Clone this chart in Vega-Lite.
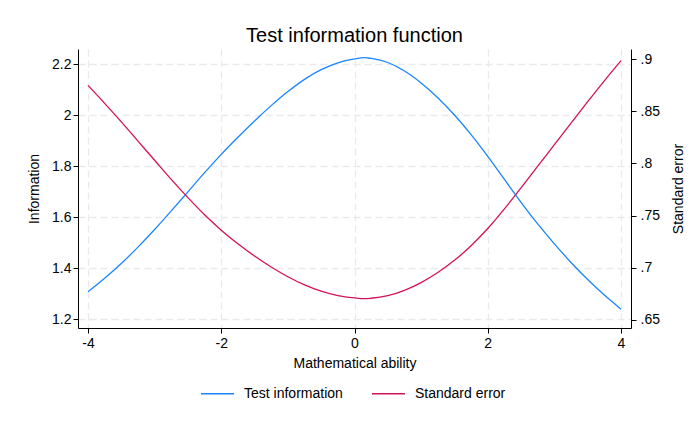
{
  "$schema": "https://vega.github.io/schema/vega-lite/v6.json",
  "width": 553,
  "height": 279,
  "autosize": {"type": "none"},
  "padding": {"left": 78, "top": 49, "right": 63, "bottom": 93},
  "background": "white",
  "config": {
    "font": "Liberation Sans",
    "view": {"stroke": null},
    "axis": {
      "domainColor": "black",
      "tickColor": "black",
      "labelColor": "black",
      "titleColor": "black",
      "labelFontSize": 14,
      "titleFontSize": 14,
      "titleFontWeight": "normal",
      "tickSize": 5,
      "gridColor": "#eaeaea",
      "gridDash": [7, 4],
      "gridWidth": 1.3
    }
  },
  "title": {"text": "Test information function", "fontSize": 20, "fontWeight": "normal", "color": "black", "anchor": "middle", "offset": 3},
  "data": {"values": [
    {"theta": -4.0, "info": 1.307, "se": 0.8747},
    {"theta": -3.75, "info": 1.360, "se": 0.8575},
    {"theta": -3.5, "info": 1.418, "se": 0.8398},
    {"theta": -3.25, "info": 1.482, "se": 0.8214},
    {"theta": -3.0, "info": 1.551, "se": 0.8030},
    {"theta": -2.75, "info": 1.624, "se": 0.7847},
    {"theta": -2.5, "info": 1.699, "se": 0.7672},
    {"theta": -2.25, "info": 1.774, "se": 0.7508},
    {"theta": -2.0, "info": 1.846, "se": 0.7360},
    {"theta": -1.75, "info": 1.913, "se": 0.7230},
    {"theta": -1.5, "info": 1.977, "se": 0.7112},
    {"theta": -1.25, "info": 2.037, "se": 0.7007},
    {"theta": -1.0, "info": 2.092, "se": 0.6914},
    {"theta": -0.75, "info": 2.140, "se": 0.6836},
    {"theta": -0.5, "info": 2.178, "se": 0.6776},
    {"theta": -0.25, "info": 2.205, "se": 0.6734},
    {"theta": 0.0, "info": 2.220, "se": 0.6712},
    {"theta": 0.15, "info": 2.225, "se": 0.6704},
    {"theta": 0.25, "info": 2.222, "se": 0.6708},
    {"theta": 0.5, "info": 2.206, "se": 0.6733},
    {"theta": 0.75, "info": 2.173, "se": 0.6784},
    {"theta": 1.0, "info": 2.126, "se": 0.6858},
    {"theta": 1.25, "info": 2.068, "se": 0.6954},
    {"theta": 1.5, "info": 2.000, "se": 0.7071},
    {"theta": 1.75, "info": 1.923, "se": 0.7211},
    {"theta": 2.0, "info": 1.838, "se": 0.7376},
    {"theta": 2.25, "info": 1.748, "se": 0.7564},
    {"theta": 2.5, "info": 1.658, "se": 0.7766},
    {"theta": 2.75, "info": 1.573, "se": 0.7973},
    {"theta": 3.0, "info": 1.495, "se": 0.8179},
    {"theta": 3.25, "info": 1.422, "se": 0.8386},
    {"theta": 3.5, "info": 1.355, "se": 0.8591},
    {"theta": 3.75, "info": 1.294, "se": 0.8791},
    {"theta": 4.0, "info": 1.239, "se": 0.8984}
  ]},
  "encoding": {
    "x": {
      "field": "theta", "type": "quantitative",
      "scale": {"domain": [-4.15, 4.15], "nice": false, "zero": false},
      "axis": {"title": "Mathematical ability", "values": [-4, -2, 0, 2, 4], "labelExpr": "'' + datum.value", "labelPadding": 3, "titlePadding": 6, "grid": true}
    }
  },
  "layer": [
    {
      "mark": {"type": "line", "strokeWidth": 1.3, "interpolate": "monotone"},
      "encoding": {
        "y": {
          "field": "info", "type": "quantitative",
          "scale": {"domain": [1.165, 2.259], "nice": false, "zero": false},
          "axis": {"title": "Information", "orient": "left", "values": [1.2, 1.4, 1.6, 1.8, 2, 2.2], "format": "~g", "labelPadding": 2, "titlePadding": 10, "grid": true}
        },
        "color": {"datum": "Test information", "type": "nominal",
          "scale": {"domain": ["Test information", "Standard error"], "range": ["#1a85ff", "#d41159"]},
          "legend": {"title": null, "orient": "none", "direction": "horizontal", "legendX": 122, "legendY": 327, "symbolType": "stroke", "symbolSize": 1089, "symbolStrokeWidth": 1.5, "labelFontSize": 14, "labelColor": "black", "labelOffset": 9, "columnPadding": 26}
        }
      }
    },
    {
      "mark": {"type": "line", "strokeWidth": 1.3, "interpolate": "monotone"},
      "encoding": {
        "y": {
          "field": "se", "type": "quantitative",
          "scale": {"domain": [0.6423, 0.9096], "nice": false, "zero": false},
          "axis": {"title": "Standard error", "orient": "right", "titleAngle": 270, "titleBaseline": "top", "values": [0.65, 0.7, 0.75, 0.8, 0.85, 0.9], "labelExpr": "substring(format(datum.value, '~g'), 1)", "labelPadding": 4, "titlePadding": 12, "grid": false}
        },
        "color": {"datum": "Standard error", "type": "nominal"}
      }
    }
  ],
  "resolve": {"scale": {"y": "independent"}}
}
